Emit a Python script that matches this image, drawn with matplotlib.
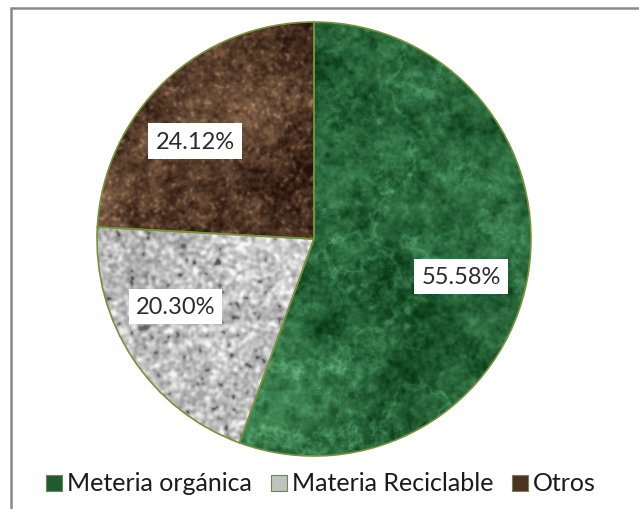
import numpy as np
import matplotlib
matplotlib.use("Agg")
import matplotlib.pyplot as plt
from matplotlib.patches import Rectangle

categories = ["Meteria orgánica", "Materia Reciclable", "Otros"]
values = [55.58, 20.30, 24.12]
labels = ["55.58%", "20.30%", "24.12%"]

W, H = 639, 510
fig = plt.figure(figsize=(W / 100, H / 100), dpi=100)
fig.patch.set_facecolor("white")

# chart-area frame (right and bottom edges run off the canvas)
fig.add_artist(Rectangle((11 / W, -0.1), 1.2, 1.1 - 9 / H,
                         transform=fig.transFigure, fill=False,
                         edgecolor="#8a8a8a", linewidth=1.8))

cx, cy, R = 314, 240, 217
ax = fig.add_axes([(cx - R) / W, (H - cy - R) / H, 2 * R / W, 2 * R / H])

edge = "#76923c"
wedges, _ = ax.pie(values, startangle=90, counterclock=False, radius=1.0,
                   colors=["#1f6b3c", "#c8c8c8", "#5a3a24"],
                   wedgeprops=dict(edgecolor=edge, linewidth=1.2))
ax.set_xlim(-1.0, 1.0)
ax.set_ylim(-1.0, 1.0)
ax.set_aspect("equal")
ax.axis("off")


# ---- procedural fills -------------------------------------------------
def spectral_noise(n, beta, seed):
    rng = np.random.default_rng(seed)
    white = rng.standard_normal((n, n))
    fx = np.fft.fftfreq(n)
    f = np.sqrt(fx[:, None] ** 2 + fx[None, :] ** 2)
    f[0, 0] = 1.0
    spec = np.fft.fft2(white) / f ** beta
    spec[0, 0] = 0
    out = np.real(np.fft.ifft2(spec))
    return (out - out.mean()) / out.std()


def gaussian_blur(a, sigma):
    n = a.shape[0]
    fx = np.fft.fftfreq(n)
    g = np.exp(-2 * (np.pi * sigma) ** 2 * (fx[:, None] ** 2 + fx[None, :] ** 2))
    out = np.real(np.fft.ifft2(np.fft.fft2(a) * g))
    return (out - out.mean()) / out.std()


def colorize(t, c0, c1):
    c0 = np.array(matplotlib.colors.to_rgb(c0))
    c1 = np.array(matplotlib.colors.to_rgb(c1))
    t = np.clip(t, 0, 1)[..., None]
    return c0 * (1 - t) + c1 * t


N = 448

# green marble: mottled green with thin pale veins
g_fine = gaussian_blur(spectral_noise(N, 0.9, 3), 1.0)
g_vein = spectral_noise(N, 1.7, 7)
g_vein2 = spectral_noise(N, 1.5, 8)
veins = np.clip(1 - np.abs(g_vein) * 3.0, 0, 1) ** 2
veins2 = np.clip(1 - np.abs(g_vein2) * 3.5, 0, 1) ** 2
green_t = 0.30 + 0.10 * g_fine + 0.24 * veins + 0.15 * veins2
green = colorize(green_t, "#073814", "#72cc8e")

# granite: light grey grain with dark speckles
s1 = gaussian_blur(spectral_noise(N, 0.0, 11), 1.7)
s2 = spectral_noise(N, 1.2, 13)
grey_t = 0.74 + 0.10 * s1 + 0.04 * s2
grey_t = np.where(s1 < -1.9, grey_t - 0.18, grey_t)
grey = colorize(grey_t, "#262626", "#f6f6f6")

# brown earth: warm brown with tan flecks and patches
b1 = spectral_noise(N, 1.3, 21)
b2 = gaussian_blur(spectral_noise(N, 0.0, 23), 1.3)
b3 = gaussian_blur(spectral_noise(N, 0.0, 25), 4.0)
brown_t = 0.25 + 0.10 * b1 + 0.06 * b2 + 0.05 * b3
brown_t = np.where(b2 > 1.6, brown_t + 0.10, brown_t)
brown = colorize(brown_t, "#24120a", "#d0a47c")

for wedge, img in zip(wedges, [green, grey, brown]):
    im = ax.imshow(img, extent=(-1, 1, -1, 1), origin="lower",
                   interpolation="bilinear", zorder=1.5)
    im.set_clip_path(wedge)
    wedge.set_zorder(2)
    wedge.set_facecolor("none")

# percentage labels in white boxes
label_radius = [0.70, 0.71, 0.71]
label_shift = [-4.3, -7.4, 7.1]
theta = 90.0
total = sum(values)
for v, lab, r, d in zip(values, labels, label_radius, label_shift):
    span = 360.0 * v / total
    mid = np.deg2rad(theta - span / 2 + d)
    theta -= span
    ax.text(r * np.cos(mid), r * np.sin(mid), lab, ha="center", va="center",
            fontsize=17, family="Lato", color="#2b2b2b", zorder=5,
            bbox=dict(boxstyle="square,pad=0.3", facecolor="white",
                      edgecolor="none"))

# legend row
swatch = ["#1f5a30", "#bfc3bd", "#4a3320"]
legend_x = [46, 271, 512]
ly = 484
for name, col, x in zip(categories, swatch, legend_x):
    fig.add_artist(Rectangle((x / W, (H - ly - 8) / H), 16 / W, 16 / H,
                             transform=fig.transFigure, facecolor=col,
                             edgecolor="#6d8a45", linewidth=0.8))
    fig.text((x + 21) / W, (H - ly) / H, name, ha="left", va="center",
             fontsize=18, family="Lato", color="#1a1a1a")

fig.savefig("out.png", dpi=100, facecolor="white")
